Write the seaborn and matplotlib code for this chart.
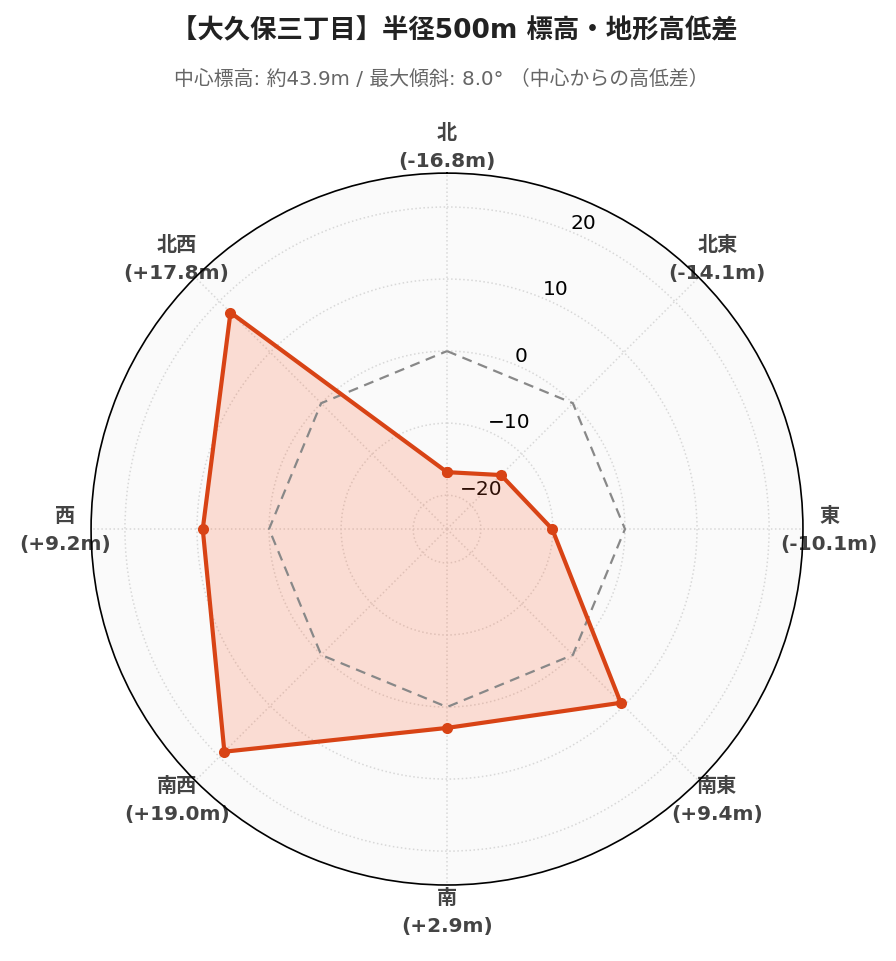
import numpy as np
import pandas as pd
import seaborn as sns
import matplotlib.pyplot as plt

# data
directions = ["北", "北東", "東", "南東", "南", "南西", "西", "北西"]
diffs = [-16.8, -14.1, -10.1, 9.4, 2.9, 19.0, 9.2, 17.8]
r_ticks = [-20, -10, 0, 10, 20]
title = "【大久保三丁目】半径500m 標高・地形高低差"
subtitle = "中心標高: 約43.9m / 最大傾斜: 8.0° （中心からの高低差）"

line_color = "#d84315"
fill_color = "#ff5722"
rmax = max(abs(v) for v in diffs) * 1.3
fonts = ['DejaVu Sans', 'Noto Sans CJK JP']

sns.set_theme(style="white")
plt.rcParams['font.family'] = fonts

angles = np.deg2rad(np.arange(len(directions)) * 45.0)
df = pd.DataFrame({
    "theta": np.append(angles, 2 * np.pi),
    "diff": diffs + diffs[:1],
    "zero": 0.0,
})

fig = plt.figure(figsize=(8.96, 9.62), dpi=100)
ax = fig.add_axes([0.1016, 0.079, 0.7946, 0.740], projection="polar")
ax.set_facecolor("#fafafa")
ax.set_theta_zero_location("N")
ax.set_theta_direction(-1)

# elevation difference (fill first, zero line on top of it)
ax.fill(df["theta"], df["diff"], color=fill_color, alpha=0.18, linewidth=0, zorder=2)
sns.lineplot(data=df, x="theta", y="zero", sort=False, ax=ax, color="#888888",
             linestyle=(0, (4.5, 3)), linewidth=1.6, legend=False, zorder=3)
sns.lineplot(data=df, x="theta", y="diff", sort=False, ax=ax, color=line_color,
             linewidth=3, marker="o", markersize=8, markeredgewidth=0,
             legend=False, zorder=4)

ax.set_ylim(-rmax, rmax)
ax.set_yticks(r_ticks)
ax.set_rlabel_position(22.5)
for lbl in ax.get_yticklabels():
    lbl.set_ha("left")
    lbl.set_fontsize(14.5)
    lbl.set_color("black")
    lbl.set_family(fonts)

ax.set_xticks(angles)
ax.set_xticklabels([f"{d}\n({v:+.1f}m)" for d, v in zip(directions, diffs)],
                   fontsize=14.5, fontweight="bold", color="#444444",
                   linespacing=1.6, family=fonts)
ax.tick_params(axis="x", pad=6)
ax.set_xlabel("")
ax.set_ylabel("")
ax.grid(color="#d8d8d8", linestyle=":", linewidth=1.1)
ax.spines["polar"].set_color("black")
ax.spines["polar"].set_linewidth(1.2)

fig.text(0.507, 0.967, title, ha="center", va="center", fontsize=19,
         fontweight="bold", color="#222222", family=fonts)
fig.text(0.492, 0.918, subtitle, ha="center", va="center", fontsize=14.3,
         color="#666666", family=fonts)

fig.savefig("out.png", dpi=100, facecolor="white")
